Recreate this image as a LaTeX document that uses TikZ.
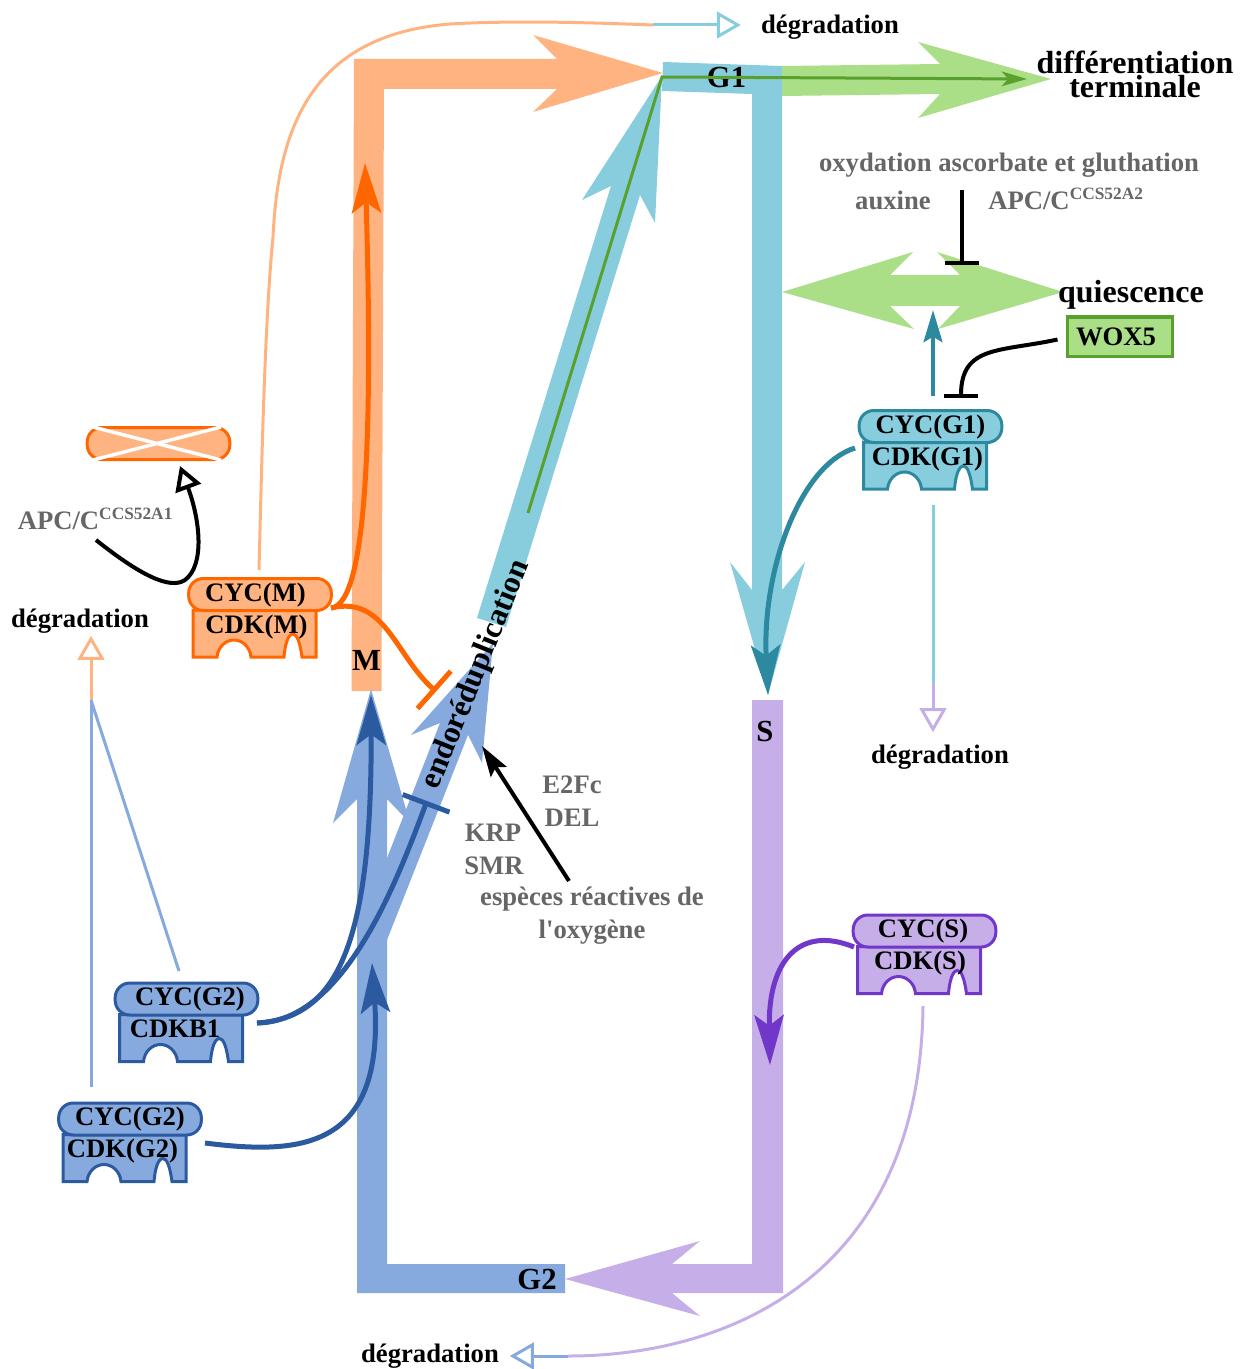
\documentclass[tikz,border=0pt]{standalone}
\usepackage{fontspec}
\usetikzlibrary{arrows.meta}
\newfontfamily\figfont{Liberation Serif}
\definecolor{orangeF}{HTML}{FFB380}
\definecolor{orangeD}{HTML}{FF6600}
\definecolor{cyanF}{HTML}{87CDDE}
\definecolor{cyanD}{HTML}{2C89A0}
\definecolor{violetF}{HTML}{C6AFE9}
\definecolor{violetD}{HTML}{7137C8}
\definecolor{blueF}{HTML}{87AADE}
\definecolor{blueD}{HTML}{2C5AA0}
\definecolor{greenF}{HTML}{AADE87}
\definecolor{greenD}{HTML}{5AA02C}
\definecolor{greyT}{HTML}{666666}
\newcommand{\apcsup}[1]{APC/C\raisebox{7.5pt}{\fontsize{13}{13}\selectfont #1}}
\tikzset{
txt/.style={anchor=base, inner sep=0pt, font=\figfont\bfseries\fontsize{20}{24}\selectfont},
greytxt/.style={txt, text=greyT},
bigtxt/.style={txt, font=\figfont\bfseries\fontsize{24}{24}\selectfont},
phasetxt/.style={txt, font=\figfont\bfseries\fontsize{23}{24}\selectfont},
cycshape/.style={draw, line width=2.25pt, rounded corners=11pt, minimum width=107pt, minimum height=24pt, inner sep=0pt},
thinline/.style={line width=2.25pt},
darkline/.style={line width=3.75pt},
blackline/.style={line width=3pt},
bighead/.style={-{Stealth[length=37.5pt,width=22pt,inset=8pt]}},
opentip/.style={-{Triangle[open,length=18pt,width=20pt]}},
tbar/.style={-{Bar[width=37.5pt]}},
smalltbar/.style={-{Bar[width=26pt]}}
}
\begin{document}
\begin{tikzpicture}[x=0.75pt,y=-0.75pt]
\useasboundingbox (0,0) rectangle (1245,1369);
\fill[orangeF] (351.5,691) -- (381.5,691) -- (384,89) -- (557,89) -- (533,112) -- (663,73) -- (533,35) -- (557,59) -- (354,59) -- cycle;
\fill[cyanF] (663,62) -- (782,66) -- (782,590) -- (805,562) -- (768,695) -- (730,562) -- (752,590) -- (752,94) -- (662,91) -- cycle;
\fill[cyanF] (477,618) -- (611,186) -- (582,200) -- (662,76) -- (655,223) -- (640,195) -- (506,627) -- cycle;
\fill[violetF] (752,700) -- (783,700) -- (783,1293) -- (672,1293) -- (700,1316) -- (565,1279) -- (700,1241) -- (672,1264) -- (752,1264) -- cycle;
\fill[blueF] (357,1293) -- (357,799) -- (333,823) -- (371,689) -- (410,823) -- (387,799) -- (387,1264) -- (565,1264) -- (565,1293) -- cycle;
\fill[blueF] (387,858) -- (440,723) -- (411,735) -- (493,643) -- (482,763) -- (468,735) -- (387,940) -- cycle;
\fill[greenF] (782,66) -- (940,64) -- (918,42) -- (1051,79) -- (918,118) -- (940,94) -- (782,96) -- cycle;
\fill[greenF] (782,292) -- (913,252) -- (890,275) -- (960,275) -- (937,252) -- (1063,292) -- (938,329) -- (960,306) -- (890,306) -- (914,329) -- cycle;
\foreach \px/\py/\nm/\cyctxt/\cdktxt/\cycdx/\cdkdx/\fillc/\linec in {
260/594.5/M/{CYC(M)}/{CDK(M)}/-4.5/-3.5/orangeF/orangeD,
930.5/426.5/G1/{CYC(G1)}/{CDK(G1)}/0/-3/cyanF/cyanD,
924.5/931/S/{CYC(S)}/{CDK(S)}/-1.5/-4.5/violetF/violetD,
186.5/999/G2b/{CYC(G2)}/{CDKB1}/3.5/-11.5/blueF/blueD,
130/1119/G2/{CYC(G2)}/{CDK(G2)}/0/-7.5/blueF/blueD}{
\begin{scope}[shift={(\px,\py)}]
\draw[line width=2.25pt, draw=\linec, fill=\fillc] (-67,15.5) -- (56,15.5) -- (56,62.5) -- (42,62.5) .. controls (40,48) and (37,39.5) .. (33,39.5) .. controls (28,39.5) and (25,50) .. (24,62.5) -- (-9,62.5) .. controls (-10,52) and (-18,45.5) .. (-26,45.5) .. controls (-34,45.5) and (-42,52) .. (-43,62.5) -- (-67,62.5) -- cycle;
\node[cycshape, draw=\linec, fill=\fillc] (cyc\nm) at (0,0) {};
\node[txt] (cyctxt\nm) at (\cycdx,6.5) {\cyctxt};
\node[txt] (cdktxt\nm) at (\cdkdx,38.5) {\cdktxt};
\end{scope}
}
\node[cycshape, draw=orangeD, fill=orangeF] (cyccut) at (158.5,443.5) {};
\coordinate (cutA) at (93,427);
\coordinate (cutB) at (221,460);
\coordinate (cutC) at (93,460);
\coordinate (cutD) at (221,427);
\draw[white, line width=2.6pt] (cutA) -- (cutB);
\draw[white, line width=2.6pt] (cutC) -- (cutD);
\node[txt] (degtop) at (830,34) {dégradation};
\node[txt] (degleft) at (80,627) {dégradation};
\node[txt] (degright) at (940,763) {dégradation};
\node[txt] (degbottom) at (430,1362) {dégradation};
\node[bigtxt] (diff) at (1135,74) {différentiation};
\node[bigtxt] (term) at (1135,98) {terminale};
\node[bigtxt] (quies) at (1131,302) {quiescence};
\node[phasetxt] (G1) at (726.5,87.5) {G1};
\node[phasetxt] (M) at (366.5,670) {M};
\node[phasetxt] (S) at (765,741.5) {S};
\node[phasetxt] (G2) at (537,1289) {G2};
\node[bigtxt, anchor=center, rotate=68, font=\figfont\bfseries\fontsize{23.5}{24}\selectfont] (endo) at (476.5,675) {endoréduplication};
\node[greytxt] (oxy) at (1009,172) {oxydation ascorbate et gluthation};
\node[greytxt] (aux) at (893,210) {auxine};
\node[greytxt, anchor=base west] (apctwo) at (988,210) {\apcsup{CCS52A2}};
\node[greytxt, anchor=base west] (apcone) at (17.5,529) {\apcsup{CCS52A1}};
\node[greytxt] (efc) at (572,793) {E2Fc};
\node[greytxt] (del) at (572,826) {DEL};
\node[greytxt] (krp) at (493,841) {KRP};
\node[greytxt] (smr) at (494,874) {SMR};
\node[greytxt] (ros) at (592,905) {espèces réactives de};
\node[greytxt] (rosb) at (592,938) {l'oxygène};
\node[draw=greenD, fill=greenF, line width=2.25pt, minimum width=78.75pt, minimum height=29.25pt, inner sep=0pt, font=\figfont\bfseries\fontsize{20}{24}\selectfont] (wox) at (1119.5,336.5) {WOX5\kern5.2pt};
\coordinate (outM) at (331,608);
\coordinate (upM) at (259,570);
\coordinate (tipM) at (365,163);
\coordinate (stopcut) at (436,691.5);
\coordinate (topA) at (653,25);
\coordinate (outG1) at (855,448);
\coordinate (tipS) at (768,695);
\coordinate (upG1) at (933,396);
\coordinate (tipquies) at (933,310);
\coordinate (downG1) at (933,505);
\coordinate (rightA) at (933,683);
\coordinate (stopG1) at (961,398);
\coordinate (oxyend) at (962,190);
\coordinate (stopquies) at (962,265);
\coordinate (outS) at (854,947);
\coordinate (tipG2) at (770,1065);
\coordinate (downS) at (923,1006);
\coordinate (bottomA) at (568,1356);
\coordinate (outG2b) at (257,1023);
\coordinate (tipMb) at (371,695);
\coordinate (stopendo) at (427,801);
\coordinate (outG2) at (205,1143);
\coordinate (tipMc) at (372,963);
\coordinate (upG2b) at (179,971);
\coordinate (upG2) at (91,1087);
\coordinate (leftA) at (91,700);
\coordinate (apcfoot) at (96,540);
\coordinate (cuttip) at (180,466);
\coordinate (rosend) at (569,881);
\coordinate (rostip) at (482,746);
\coordinate (grstart) at (528,513);
\coordinate (grmid) at (662,77);
\coordinate (grtip) at (1027,79);
\draw[orangeF, thinline] (upM) .. controls (262,450) and (265,320) .. (273,237) .. controls (278,130) and (310,35) .. (450,24) .. controls (520,20) and (600,23) .. (topA);
\draw[cyanF, thinline, opentip, shorten >=15pt] (topA) -- (degtop.west |- topA);
\draw[greenD, thinline, line join=miter, -{Stealth[length=19pt,width=11pt,inset=5pt]}] (grstart) -- (grmid) -- (grtip);
\draw[orangeD, darkline, bighead] (outM) .. controls (370,605) and (372,400) .. (tipM);
\draw[orangeD, darkline, tbar] (outM) .. controls (385,595) and (395,655) .. (stopcut);
\draw[cyanD, darkline, bighead] (outG1) .. controls (800,465) and (762,570) .. (tipS);
\draw[cyanD, line width=3.5pt, -{Stealth[length=24pt,width=14pt,inset=4pt]}] (upG1) -- (tipquies);
\draw[black, blackline, smalltbar] (wox.west) ++(-8,3) .. controls (1000,352) and (961,345) .. (stopG1);
\draw[black, blackline, smalltbar] (oxyend) -- (stopquies);
\draw[cyanF, thinline] (downG1) -- (rightA);
\draw[violetF, thinline, opentip, shorten >=9pt] (rightA) -- (degright.north -| rightA);
\draw[violetD, darkline, bighead] (outS) .. controls (800,925) and (768,960) .. (tipG2);
\draw[violetF, thinline] (downS) .. controls (920,1275) and (730,1356) .. (bottomA);
\draw[blueF, thinline, opentip, shorten >=8pt] (bottomA) -- (degbottom.east |- bottomA);
\draw[blueD, darkline, bighead] (outG2b) .. controls (335,1018) and (372,950) .. (tipMb);
\draw[blueD, darkline, tbar] (outG2b) .. controls (345,1022) and (398,878) .. (stopendo);
\draw[blueD, darkline, bighead] (outG2) .. controls (300,1155) and (385,1150) .. (tipMc);
\draw[blueF, thinline] (upG2b) -- (leftA);
\draw[blueF, thinline] (upG2) -- (leftA);
\draw[orangeF, thinline, opentip, shorten >=2pt] (leftA) -- (degleft.south -| leftA);
\draw[black, blackline, opentip] (apcfoot) .. controls (140,575) and (170,590) .. (185,580) .. controls (205,565) and (200,520) .. (cuttip);
\draw[black, blackline, -{Stealth[length=23pt,width=14pt,inset=4pt]}] (rosend) -- (rostip);
\end{tikzpicture}
\end{document}
